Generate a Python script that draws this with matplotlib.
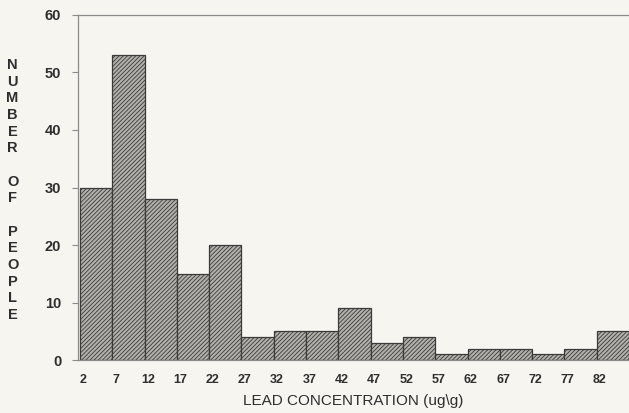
import matplotlib.pyplot as plt

# lead concentration bins (left edges, ug/g) and counts
bin_starts = [2, 7, 12, 17, 22, 27, 32, 37, 42, 47, 52, 57, 62, 67, 72, 77, 82]
counts = [30, 53, 28, 15, 20, 4, 5, 5, 9, 3, 4, 1, 2, 2, 1, 2, 5]
y_ticks = [0, 10, 20, 30, 40, 50, 60]
BIN_WIDTH = 5

PAPER = '#f6f5ef'
INK = '#2e2e2e'
AXIS_GREY = '#8a8a8a'

plt.rcParams['hatch.linewidth'] = 0.6


def plotter() -> None:
    fig = plt.figure(figsize=(6.29, 4.13), dpi=100, facecolor=PAPER)
    ax = fig.add_axes([0.124, 0.128, 0.876, 0.836], facecolor=PAPER)

    ax.bar(bin_starts, counts, width=BIN_WIDTH, align='edge',
           facecolor='#b2b1ab', edgecolor='#3a3a3a', linewidth=0.9,
           hatch='////////')

    ax.set_xlim(1.7, 87)
    ax.set_ylim(0, 60)

    ax.set_xticks([b + 0.5 for b in bin_starts])
    ax.set_xticklabels([str(b) for b in bin_starts])
    ax.set_yticks(y_ticks)

    ax.tick_params(axis='x', length=0, pad=10, labelsize=9,
                   colors=INK)
    ax.tick_params(axis='y', length=4, width=0.8, color=AXIS_GREY,
                   pad=8, labelsize=10.5, labelcolor=INK)
    for lab in ax.get_xticklabels() + ax.get_yticklabels():
        lab.set_fontfamily('Liberation Sans')
        lab.set_fontweight('bold')

    for side in ['left', 'top', 'bottom']:
        ax.spines[side].set_color(AXIS_GREY)
        ax.spines[side].set_linewidth(0.9)
    ax.spines['right'].set_visible(False)

    ax.set_xlabel('LEAD CONCENTRATION (ug\\g)', family='Liberation Sans',
                  fontsize=11, color=INK, labelpad=6)

    ylabel = '\n'.join(list('NUMBER') + [''] + list('OF') + [''] +
                       list('PEOPLE'))
    fig.text(0.02, 0.54, ylabel, ha='center', va='center',
             family='Liberation Sans', fontweight='bold', fontsize=10.5,
             linespacing=1.24, color=INK)

    fig.savefig('out.png', dpi=100, facecolor=PAPER)


def main() -> None:
    plotter()


if __name__ == '__main__':
    main()
